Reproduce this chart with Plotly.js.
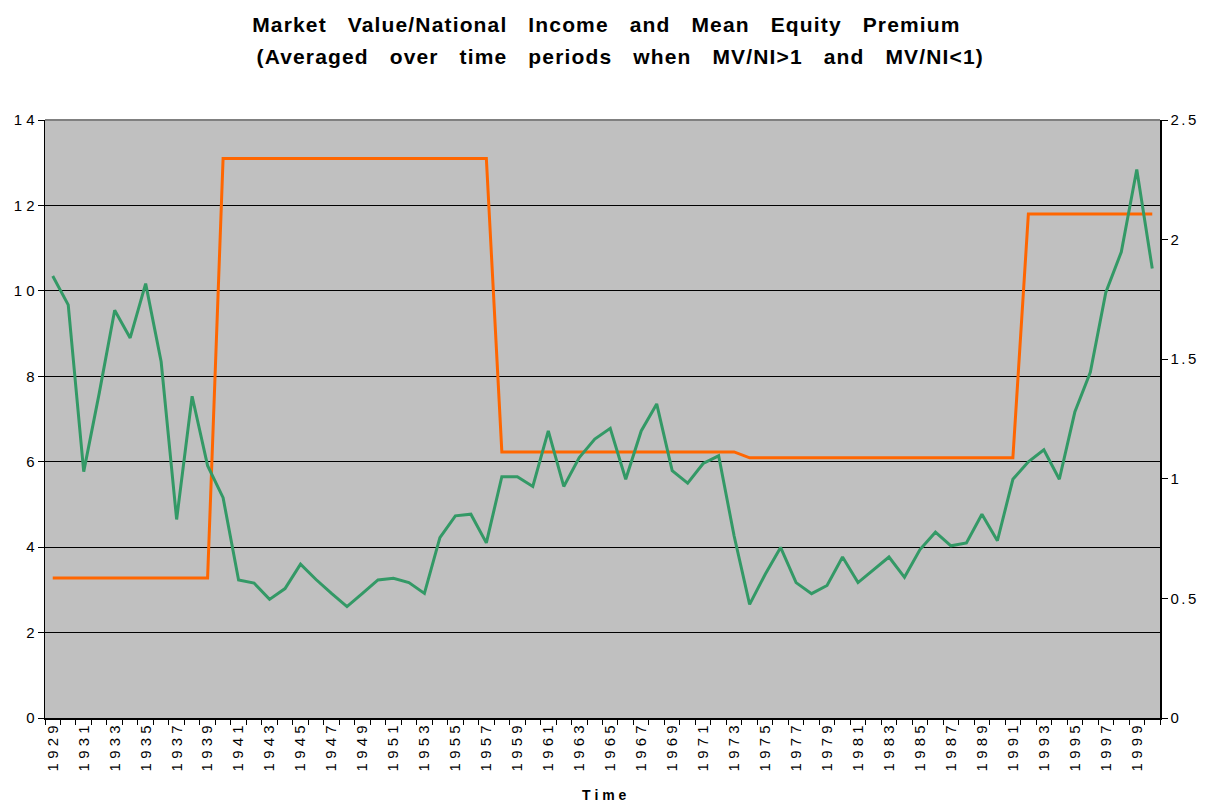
<!DOCTYPE html>
<html>
<head>
<meta charset="utf-8">
<script src="https://cdn.plot.ly/plotly-3.0.1.min.js"></script>
<style>
html,body{margin:0;padding:0;background:#fff;}
#chart{width:1209px;height:802px;}
</style>
</head>
<body>
<div id="chart"></div>
<script>
// Years 1929-2000
const years = [1929,1930,1931,1932,1933,1934,1935,1936,1937,1938,1939,1940,1941,1942,1943,1944,1945,1946,1947,1948,1949,1950,1951,1952,1953,1954,1955,1956,1957,1958,1959,1960,1961,1962,1963,1964,1965,1966,1967,1968,1969,1970,1971,1972,1973,1974,1975,1976,1977,1978,1979,1980,1981,1982,1983,1984,1985,1986,1987,1988,1989,1990,1991,1992,1993,1994,1995,1996,1997,1998,1999,2000];

// Mean equity premium (left axis), averaged over regimes
const equityPremium = [3.28,3.28,3.28,3.28,3.28,3.28,3.28,3.28,3.28,3.28,3.28,
  13.1,13.1,13.1,13.1,13.1,13.1,13.1,13.1,13.1,13.1,13.1,13.1,13.1,13.1,13.1,13.1,13.1,13.1,
  6.23,6.23,6.23,6.23,6.23,6.23,6.23,6.23,6.23,6.23,6.23,6.23,6.23,6.23,6.23,6.23,
  6.09,6.09,6.09,6.09,6.09,6.09,6.09,6.09,6.09,6.09,6.09,6.09,6.09,6.09,6.09,6.09,6.09,6.09,
  11.8,11.8,11.8,11.8,11.8,11.8,11.8,11.8,11.8];

// Market value / national income (right axis)
const mvni = [1.848,1.727,1.030,1.357,1.705,1.589,1.816,1.489,0.830,1.345,1.055,0.921,0.577,0.564,0.496,0.541,0.643,0.579,0.521,0.466,0.521,0.577,0.584,0.566,0.521,0.754,0.845,0.852,0.732,1.009,1.009,0.968,1.200,0.968,1.089,1.166,1.211,0.998,1.200,1.313,1.034,0.982,1.064,1.096,0.761,0.475,0.600,0.713,0.566,0.520,0.554,0.673,0.566,0.621,0.673,0.588,0.704,0.777,0.720,0.732,0.852,0.741,0.998,1.071,1.121,0.998,1.279,1.445,1.779,1.948,2.293,1.879];

const labelYears = years.filter(y => (y - 1929) % 2 === 0);
const leftTicks = [0, 2, 4, 6, 8, 10, 12, 14];
const rightTicks = [0, 0.5, 1, 1.5, 2, 2.5];
const tickBounds = years.concat([2001]).map(y => y - 0.5);

const spaced = s => String(s).split('').join(' ');
const gap = '\u00A0\u00A0\u00A0';
const titleLine1 = ['Market', 'Value/National', 'Income', 'and', 'Mean', 'Equity', 'Premium'].join(gap);
const titleLine2 = ['(Averaged', 'over', 'time', 'periods', 'when', 'MV/NI>1', 'and', 'MV/NI<1)'].join(gap);
const xTitle = 'Time';

const traces = [
  {x: years, y: equityPremium, type: 'scatter', mode: 'lines', yaxis: 'y',
   line: {color: '#FF6600', width: 3}, hoverinfo: 'skip'},
  {x: years, y: mvni, type: 'scatter', mode: 'lines', yaxis: 'y2',
   line: {color: '#339966', width: 3}, hoverinfo: 'skip'}
];

const fontFam = 'Liberation Sans, Arial, sans-serif';

const layout = {
  width: 1209, height: 802,
  margin: {l: 45, r: 49, t: 120, b: 84},
  paper_bgcolor: '#ffffff',
  plot_bgcolor: '#C0C0C0',
  showlegend: false,
  font: {family: fontFam, color: '#000'},
  xaxis: {
    range: [1928.5, 2000.5], tickmode: 'array', tickvals: labelYears, ticktext: labelYears.map(spaced),
    tickangle: -90, ticks: '', showgrid: false, zeroline: false,
    showline: true, linecolor: '#000', linewidth: 1.5,
    tickfont: {family: fontFam, size: 15, color: '#000'},
    minor: {tickmode: 'array', tickvals: tickBounds, ticks: 'outside', ticklen: 5, tickcolor: '#000', tickwidth: 1, showgrid: false}
  },
  yaxis: {
    range: [0, 14], tickmode: 'array', tickvals: leftTicks, ticktext: leftTicks.map(spaced),
    ticks: 'outside', ticklen: 6, tickcolor: '#000',
    showgrid: true, gridcolor: '#000', gridwidth: 1, zeroline: false,
    showline: true, linecolor: '#000', linewidth: 1.5,
    tickfont: {family: fontFam, size: 15, color: '#000'}
  },
  yaxis2: {
    range: [0, 2.5], tickmode: 'array', tickvals: rightTicks, ticktext: rightTicks.map(String),
    overlaying: 'y', side: 'right', anchor: 'x',
    ticks: 'outside', ticklen: 6, tickcolor: '#000',
    showgrid: false, zeroline: false,
    showline: true, linecolor: '#000', linewidth: 1.5,
    tickfont: {family: fontFam, size: 15, color: '#000'}
  },
  annotations: [
    {text: '<b>' + titleLine1 + '</b>', xref: 'paper', yref: 'paper', x: 0.504, y: 1.159, xanchor: 'center', yanchor: 'middle',
     showarrow: false, font: {family: fontFam, size: 21, color: '#000'}},
    {text: '<b>' + titleLine2 + '</b>', xref: 'paper', yref: 'paper', x: 0.516, y: 1.107, xanchor: 'center', yanchor: 'middle',
     showarrow: false, font: {family: fontFam, size: 21, color: '#000'}},
    {text: '<b>' + spaced(xTitle) + '</b>', xref: 'paper', yref: 'paper', x: 0.502, y: -0.128, xanchor: 'center', yanchor: 'middle',
     showarrow: false, font: {family: fontFam, size: 14, color: '#000'}}
  ],
  shapes: [
    {type: 'line', xref: 'paper', yref: 'paper', x0: 0, x1: 1, y0: 1, y1: 1,
     line: {color: '#808080', width: 2}, layer: 'above'}
  ]
};

Plotly.newPlot('chart', traces, layout, {displayModeBar: false, staticPlot: true}).then(gd => {
  const anns = gd.querySelectorAll('.annotation-text');
  for (let i = 0; i < 2 && i < anns.length; i++) {
    anns[i].style.letterSpacing = '1.15px';
  }
  gd.querySelectorAll('.y2tick text').forEach(t => { t.style.letterSpacing = '2.5px'; });
});
</script>
</body>
</html>
